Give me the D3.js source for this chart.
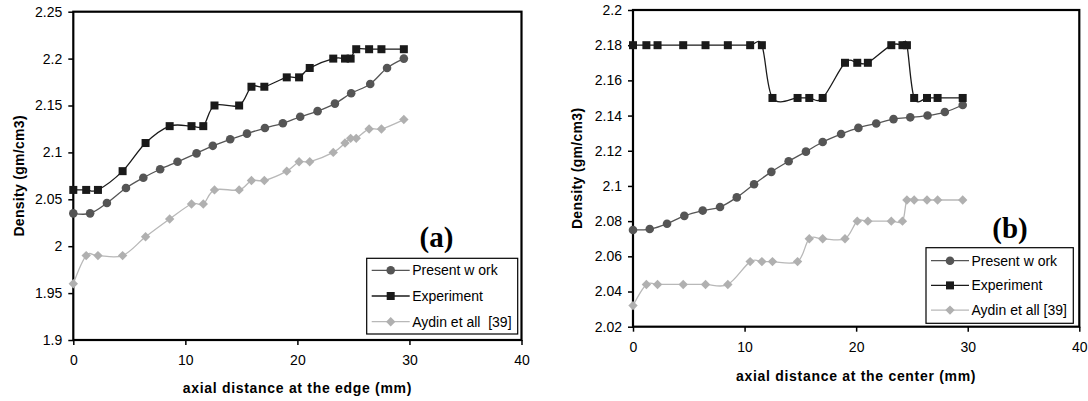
<!DOCTYPE html>
<html>
<head>
<meta charset="utf-8">
<script src="https://cdn.jsdelivr.net/npm/d3@7"></script>
<style>
  html, body { margin: 0; padding: 0; background: #fff; }
  svg { display: block; }
  text { font-family: "Liberation Sans", Arial, sans-serif; fill: #000; }
</style>
</head>
<body>
<svg id="chart" width="1088" height="401"></svg>
<script>
// ---- Panel (a): axial distance at the edge ----
const edgePresentX = [0, 1.5, 3.0, 4.7, 6.25, 7.75, 9.3, 11.0, 12.45, 14.0, 15.5, 17.1, 18.7, 20.25, 21.8, 23.35, 24.8, 26.5, 28.0, 29.5];
const edgePresent = [2.035, 2.035, 2.046, 2.062, 2.073, 2.082, 2.090, 2.099, 2.107, 2.114, 2.120, 2.126, 2.131, 2.138, 2.144, 2.152, 2.163, 2.173, 2.190, 2.200];
const edgeRefX = [0, 1.15, 2.2, 4.4, 6.45, 8.6, 10.55, 11.6, 12.6, 14.8, 15.9, 17.05, 19.05, 20.15, 21.1, 23.2, 24.25, 24.75, 25.25, 26.4, 27.5, 29.5];
const edgeExperiment = [2.06, 2.06, 2.06, 2.08, 2.11, 2.128, 2.128, 2.128, 2.15, 2.15, 2.17, 2.17, 2.18, 2.18, 2.19, 2.20, 2.20, 2.20, 2.21, 2.21, 2.21, 2.21];
const edgeAydin = [1.96, 1.99, 1.99, 1.99, 2.01, 2.029, 2.045, 2.045, 2.06, 2.06, 2.07, 2.07, 2.08, 2.09, 2.09, 2.10, 2.11, 2.115, 2.115, 2.125, 2.125, 2.135];
const edgeYTicks = [1.9, 1.95, 2.0, 2.05, 2.1, 2.15, 2.2, 2.25];

// ---- Panel (b): axial distance at the center ----
const centerPresentX = [0, 1.5, 3.05, 4.6, 6.25, 7.8, 9.3, 10.85, 12.4, 13.95, 15.5, 17.0, 18.65, 20.2, 21.8, 23.35, 24.85, 26.4, 27.95, 29.55];
const centerPresent = [2.075, 2.0755, 2.0785, 2.083, 2.086, 2.088, 2.0935, 2.101, 2.108, 2.114, 2.1195, 2.125, 2.1295, 2.133, 2.1355, 2.138, 2.139, 2.140, 2.142, 2.146];
const centerRefX = [0, 1.2, 2.2, 4.5, 6.5, 8.5, 10.5, 11.55, 12.5, 14.75, 15.8, 17.0, 19.0, 20.1, 21.05, 23.15, 24.15, 24.55, 25.2, 26.35, 27.3, 29.55];
const centerExperiment = [2.18, 2.18, 2.18, 2.18, 2.18, 2.18, 2.18, 2.18, 2.15, 2.15, 2.15, 2.15, 2.17, 2.17, 2.17, 2.18, 2.18, 2.18, 2.15, 2.15, 2.15, 2.15];
const centerAydin = [2.032, 2.044, 2.044, 2.044, 2.044, 2.044, 2.057, 2.057, 2.057, 2.057, 2.07, 2.07, 2.07, 2.08, 2.08, 2.08, 2.08, 2.092, 2.092, 2.092, 2.092, 2.092];
const centerYTicks = [2.02, 2.04, 2.06, 2.08, 2.1, 2.12, 2.14, 2.16, 2.18, 2.2];

const xTicks = [0, 10, 20, 30, 40];
const seriesNames = ["Present w ork", "Experiment", "Aydin et all  [39]"];
const seriesNamesB = ["Present w ork", "Experiment", "Aydin et all [39]"];

const svg = d3.select("#chart");

const styles = [
  { line: "#555555", fill: "#555555", marker: "circle" },
  { line: "#1a1a1a", fill: "#1a1a1a", marker: "square" },
  { line: "#b8b8b8", fill: "#b0b0b0", marker: "diamond" }
];

function drawMarker(g, type, x, y, color) {
  if (type === "circle") {
    g.append("circle").attr("cx", x).attr("cy", y).attr("r", 4.3).attr("fill", color);
  } else if (type === "square") {
    g.append("rect").attr("x", x - 4).attr("y", y - 4).attr("width", 8).attr("height", 8).attr("fill", color);
  } else {
    const h = 4.7;
    g.append("path")
      .attr("d", `M${x},${y - h}L${x + h},${y}L${x},${y + h}L${x - h},${y}Z`)
      .attr("fill", color);
  }
}

function drawPanel(p) {
  const x = d3.scaleLinear().domain([0, 40]).range([p.left, p.right]);
  const y = d3.scaleLinear().domain(p.yDomain).range([p.bottom, p.top]);
  const g = svg.append("g");

  // y axis ticks and labels
  const yAxis = d3.axisLeft(y).tickValues(p.yTicks).tickSize(5).tickPadding(6)
    .tickFormat(d => d3.format("")(+d.toFixed(3)));
  const ya = g.append("g").attr("transform", `translate(${p.left},0)`).call(yAxis);
  ya.select(".domain").remove();
  ya.selectAll("line").attr("stroke", "#000").attr("stroke-width", 1.5);
  ya.selectAll("text").style("font-size", "14px").attr("font-family", null).attr("fill", "#000");

  // x axis ticks and labels
  const xAxis = d3.axisBottom(x).tickValues(xTicks).tickSize(5).tickPadding(p.xPad);
  const xa = g.append("g").attr("transform", `translate(0,${p.bottom})`).call(xAxis);
  xa.select(".domain").remove();
  xa.selectAll("line").attr("stroke", "#000").attr("stroke-width", 1.5);
  xa.selectAll("text").style("font-size", "14px").attr("font-family", null).attr("fill", "#000");

  // plot frame
  g.append("rect")
    .attr("x", p.left).attr("y", p.top)
    .attr("width", p.right - p.left).attr("height", p.bottom - p.top)
    .attr("fill", "none").attr("stroke", "#000").attr("stroke-width", 2.2);

  // series
  const line = d3.line().curve(d3.curveCardinal.tension(0)).x(d => x(d[0])).y(d => y(d[1]));
  const series = [
    d3.zip(p.presentX, p.present),
    d3.zip(p.refX, p.experiment),
    d3.zip(p.refX, p.aydin)
  ];
  [2, 0, 1].forEach(i => {
    const s = styles[i];
    g.append("path").datum(series[i]).attr("d", line)
      .attr("fill", "none").attr("stroke", s.line).attr("stroke-width", 1.3);
    const mg = g.append("g");
    series[i].forEach(d => drawMarker(mg, s.marker, x(d[0]), y(d[1]), s.fill));
  });

  // axis titles
  g.append("text")
    .attr("transform", `translate(${p.yTitleX},${(p.top + p.bottom) / 2}) rotate(-90)`)
    .attr("text-anchor", "middle").attr("dy", "0.35em")
    .style("font-size", "14px").style("font-weight", "bold").style("letter-spacing", "0.3px")
    .text("Density (gm/cm3)");
  g.append("text")
    .attr("x", (p.left + p.right) / 2).attr("y", p.xTitleY)
    .attr("text-anchor", "middle").attr("dy", "0.35em")
    .style("font-size", "14px").style("font-weight", "bold").style("letter-spacing", "0.7px")
    .text(p.xTitle);

  // panel letter
  g.append("text")
    .attr("x", p.letterX).attr("y", p.letterY)
    .attr("text-anchor", "middle")
    .style("font-family", "'Liberation Serif', 'Times New Roman', serif")
    .style("font-size", "29px").style("font-weight", "bold")
    .text(p.letter);

  // legend
  const lg = g.append("g");
  lg.append("rect")
    .attr("x", p.legend.x).attr("y", p.legend.y)
    .attr("width", p.legend.w).attr("height", p.legend.h)
    .attr("fill", "#fff").attr("stroke", "#000").attr("stroke-width", 1.2);
  p.names.forEach((name, i) => {
    const s = styles[i];
    const yy = p.legend.y + p.legend.rowStart + i * p.legend.rowStep;
    const lx0 = p.legend.x + 5, lx1 = p.legend.x + 43;
    lg.append("line").attr("x1", lx0).attr("x2", lx1).attr("y1", yy).attr("y2", yy)
      .attr("stroke", s.line).attr("stroke-width", 1.3);
    drawMarker(lg, s.marker, (lx0 + lx1) / 2, yy, s.fill);
    lg.append("text")
      .attr("x", lx1 + 2.5).attr("y", yy).attr("dy", "0.35em")
      .attr("xml:space", "preserve").style("white-space", "pre")
      .style("font-size", "14px")
      .text(name);
  });
}

drawPanel({
  left: 73.3, right: 521.5, top: 11.7, bottom: 340,
  yDomain: [1.9, 2.25], yTicks: edgeYTicks, xPad: 10,
  presentX: edgePresentX, present: edgePresent,
  refX: edgeRefX, experiment: edgeExperiment, aydin: edgeAydin,
  yTitleX: 19, xTitleY: 388, xTitle: "axial distance at the edge (mm)",
  letter: "(a)", letterX: 436.5, letterY: 247,
  legend: { x: 366.7, y: 258.3, w: 151, h: 75.7, rowStart: 12, rowStep: 25.7 },
  names: seriesNames
});

drawPanel({
  left: 633, right: 1079.3, top: 10, bottom: 326.7,
  yDomain: [2.02, 2.2], yTicks: centerYTicks, xPad: 10,
  presentX: centerPresentX, present: centerPresent,
  refX: centerRefX, experiment: centerExperiment, aydin: centerAydin,
  yTitleX: 577, xTitleY: 376, xTitle: "axial distance at the center (mm)",
  letter: "(b)", letterX: 1010, letterY: 238,
  legend: { x: 926, y: 247.7, w: 147.3, h: 75.6, rowStart: 13, rowStep: 24.7 },
  names: seriesNamesB
});
</script>
</body>
</html>
